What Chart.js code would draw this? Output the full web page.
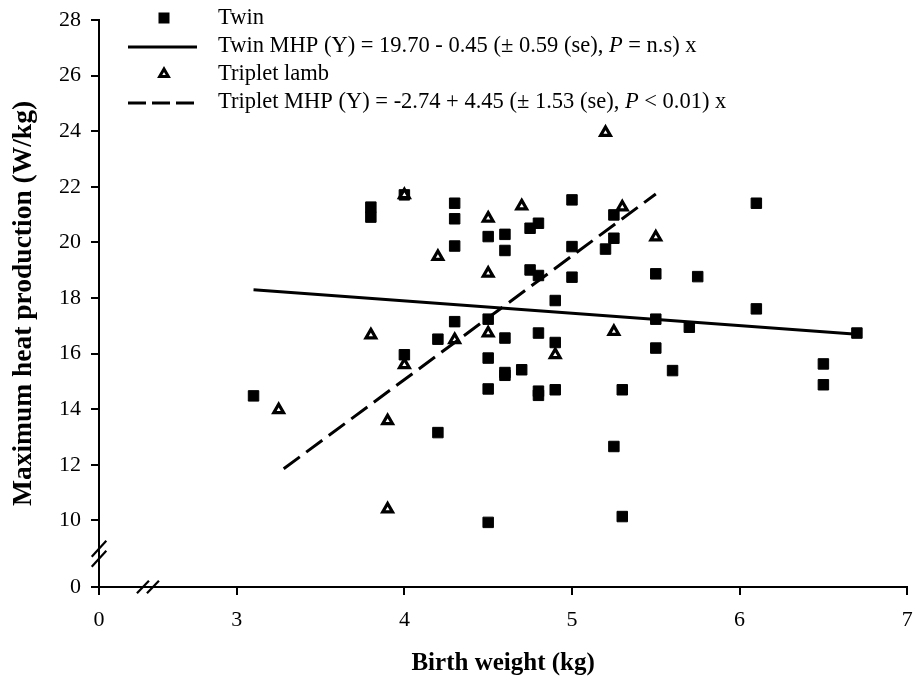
<!DOCTYPE html>
<html><head><meta charset="utf-8">
<script src="https://cdn.jsdelivr.net/npm/chart.js@4.4.1/dist/chart.umd.min.js"></script>
<style>html,body{margin:0;padding:0;background:#fff}canvas{display:block}</style>
</head><body>
<canvas id="c" width="916" height="685"></canvas>
<script>
// ---- data ----
const twinX = [3.1, 3.8, 3.8, 4.0, 4.0, 4.2, 4.2, 4.3, 4.3, 4.3, 4.3, 4.5, 4.5, 4.5, 4.5, 4.5,
  4.6, 4.6, 4.6, 4.6, 4.6, 4.7, 4.75, 4.8, 4.75, 4.8, 4.8, 4.8, 4.8, 4.9, 4.9, 4.9,
  5.0, 5.0, 5.0, 5.2, 5.25, 5.25, 5.25, 5.3, 5.3, 5.5, 5.5, 5.5, 5.6, 5.7, 5.75, 6.1, 6.1, 6.5, 6.5, 6.7];
const twinY = [14.48, 21.27, 20.91, 21.71, 15.96, 16.52, 13.16, 21.41, 20.85, 19.87, 17.15, 20.21, 17.24, 15.84, 14.73, 9.93,
  20.29, 19.71, 16.56, 15.32, 15.22, 15.42, 20.51, 20.69, 19.01, 18.81, 16.74, 14.65, 14.5, 17.91, 16.40, 14.70,
  21.53, 19.85, 18.75, 19.76, 20.99, 20.15, 12.66, 14.70, 10.14, 18.87, 17.24, 16.20, 15.39, 16.95, 18.77, 21.41, 17.61, 15.63, 14.88, 16.74];
const tripletX = [3.25, 3.8, 3.9, 3.9, 4.0, 4.0, 4.2, 4.3, 4.5, 4.5, 4.5, 4.7, 4.9, 5.2, 5.25, 5.3, 5.5];
const tripletY = [13.98, 16.67, 13.58, 10.41, 21.71, 15.60, 19.49, 16.5, 20.87, 18.89, 16.74, 21.31, 15.96, 23.95, 16.79, 21.27, 20.19];
const twinLineX = [3.1, 6.7];
const twinLineY = [18.30, 16.70];
const tripletLineX = [3.28, 5.5];
const tripletLineY = [11.86, 21.74];
// broken axes: first tick stands for "0"
const xTickValues = [2.178, 3, 4, 5, 6, 7];
const xTickLabels = ['0', '3', '4', '5', '6', '7'];
const yTickValues = [7.606, 10, 12, 14, 16, 18, 20, 22, 24, 26, 28];
const yTickLabels = ['0', '10', '12', '14', '16', '18', '20', '22', '24', '26', '28'];
const xBreakValue = 2.47;
const yBreakValue = 8.8;
const legendRows = [
  { kind: 'rect', parts: [['Twin', false]] },
  { kind: 'solid', parts: [['Twin MHP (Y) = 19.70 - 0.45 (\u00B1 0.59 (se), ', false], ['P', true], [' = n.s) x', false]] },
  { kind: 'triangle', parts: [['Triplet lamb', false]] },
  { kind: 'dash', parts: [['Triplet MHP (Y) = -2.74 + 4.45 (\u00B1 1.53 (se), ', false], ['P', true], [' < 0.01) x', false]] }
];

const FONT = 'Liberation Serif';
const toPts = (xs, ys) => xs.map((x, i) => ({ x: x, y: ys[i] }));

const breakPlugin = {
  id: 'breaks',
  afterDraw(chart) {
    const ctx = chart.ctx, xs = chart.scales.x, ys = chart.scales.y;
    ctx.save();
    ctx.strokeStyle = '#000';
    ctx.lineWidth = 2.2;
    const yc = ys.getPixelForValue(yBreakValue), yx = chart.chartArea.left;
    [-5, 5].forEach(o => {
      ctx.beginPath();
      ctx.moveTo(yx - 7.3, yc + o + 8);
      ctx.lineTo(yx + 7.3, yc + o - 8);
      ctx.stroke();
    });
    const xc = xs.getPixelForValue(xBreakValue), xy = chart.chartArea.bottom;
    [-5, 5].forEach(o => {
      ctx.beginPath();
      ctx.moveTo(xc + o - 6, xy + 6.3);
      ctx.lineTo(xc + o + 6, xy - 6.3);
      ctx.stroke();
    });
    ctx.restore();
  }
};

const legendPlugin = {
  id: 'customLegend',
  afterDraw(chart) {
    const ctx = chart.ctx;
    const rowY = [18, 46, 74, 102];
    const markX = 164, lineX0 = 128, lineX1 = 197, textX = 218;
    ctx.save();
    legendRows.forEach((row, i) => {
      const y = rowY[i];
      ctx.fillStyle = '#000';
      ctx.strokeStyle = '#000';
      if (row.kind === 'rect') {
        ctx.fillRect(markX - 5.5, y - 5.5, 11, 11);
      } else if (row.kind === 'triangle') {
        ctx.lineWidth = 3;
        ctx.lineJoin = 'miter';
        ctx.beginPath();
        const r = 5.0;
        ctx.moveTo(markX, y - r);
        ctx.lineTo(markX + r * 0.866, y + r * 0.5);
        ctx.lineTo(markX - r * 0.866, y + r * 0.5);
        ctx.closePath();
        ctx.fillStyle = '#fff';
        ctx.fill();
        ctx.stroke();
      } else {
        ctx.lineWidth = 3;
        ctx.setLineDash(row.kind === 'dash' ? [18, 6] : []);
        ctx.beginPath();
        ctx.moveTo(lineX0, y + 1);
        ctx.lineTo(lineX1, y + 1);
        ctx.stroke();
        ctx.setLineDash([]);
      }
      let x = textX;
      ctx.fillStyle = '#000';
      ctx.textBaseline = 'middle';
      ctx.textAlign = 'left';
      row.parts.forEach(p => {
        ctx.font = (p[1] ? 'italic ' : '') + '22.5px "' + FONT + '"';
        ctx.fillText(p[0], x, y);
        x += ctx.measureText(p[0]).width;
      });
    });
    ctx.restore();
  }
};

const tickFont = { family: FONT, size: 22 };

new Chart(document.getElementById('c'), {
  type: 'scatter',
  data: {
    datasets: [
      { label: 'Twin MHP', data: toPts(twinLineX, twinLineY), showLine: true, borderColor: '#000', borderWidth: 3,
        pointRadius: 0, fill: false, order: 0 },
      { label: 'Triplet MHP', data: toPts(tripletLineX, tripletLineY), showLine: true, borderColor: '#000', borderWidth: 3,
        borderDash: [20, 8], pointRadius: 0, fill: false, order: 1 },
      { label: 'Triplet lamb', data: toPts(tripletX, tripletY), pointStyle: 'triangle', pointRadius: 5.6,
        pointBorderWidth: 3.2, pointBorderColor: '#000', pointBackgroundColor: '#fff',
        borderColor: '#000', backgroundColor: '#fff', order: 2 },
      { label: 'Twin', data: toPts(twinX, twinY), pointStyle: 'rect', pointRadius: 7.4,
        pointBorderWidth: 1, pointBorderColor: '#000', pointBackgroundColor: '#000',
        borderColor: '#000', backgroundColor: '#000', order: 3 }
    ]
  },
  options: {
    responsive: false,
    animation: false,
    events: [],
    layout: { padding: { top: 20, right: 6, left: 0, bottom: 0 } },
    plugins: { legend: { display: false }, tooltip: { enabled: false } },
    scales: {
      x: {
        type: 'linear', min: xTickValues[0], max: xTickValues[xTickValues.length - 1],
        afterBuildTicks: s => { s.ticks = xTickValues.map(v => ({ value: v })); },
        afterFit: s => { s.height = 98; s.paddingLeft = 0; s.paddingRight = 0; },
        ticks: { callback: (v, i) => xTickLabels[i], color: '#000', font: tickFont, padding: 12, maxRotation: 0, autoSkip: false },
        grid: { drawOnChartArea: false, drawTicks: true, tickLength: 8, color: '#000', lineWidth: 2 },
        border: { display: true, color: '#000', width: 2 },
        title: { display: true, text: 'Birth weight (kg)', color: '#000', font: { family: FONT, size: 25, weight: 'bold' }, padding: { top: 0, bottom: 6 } }
      },
      y: {
        type: 'linear', min: yTickValues[0], max: yTickValues[yTickValues.length - 1],
        afterBuildTicks: s => { s.ticks = yTickValues.map(v => ({ value: v })); },
        afterFit: s => { s.width = 99; s.paddingTop = 0; s.paddingBottom = 0; },
        ticks: { callback: (v, i) => yTickLabels[i], color: '#000', font: tickFont, padding: 10, autoSkip: false },
        grid: { drawOnChartArea: false, drawTicks: true, tickLength: 8, color: '#000', lineWidth: 2 },
        border: { display: true, color: '#000', width: 2 },
        title: { display: true, text: 'Maximum heat production (W/kg)', color: '#000', font: { family: FONT, size: 27.5, weight: 'bold' }, padding: { top: 7, bottom: 0 } }
      }
    }
  },
  plugins: [breakPlugin, legendPlugin]
});
</script>
</body></html>
